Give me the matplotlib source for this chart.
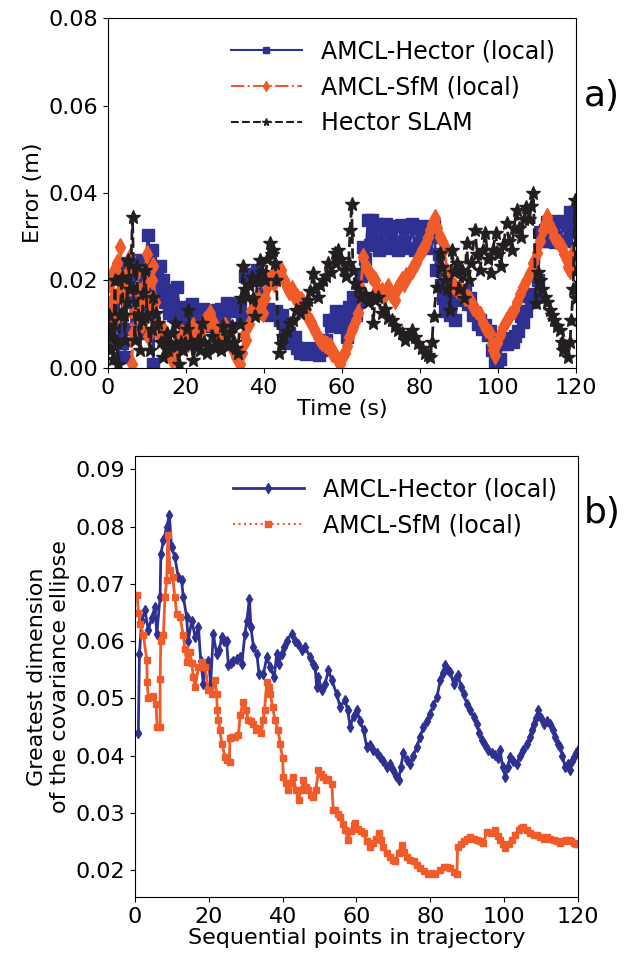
import numpy as np
import matplotlib
matplotlib.use("Agg")
import matplotlib.pyplot as plt

blue = "#2e3192"
orange = "#f15a29"
black = "#231f20"

# ---- a) localisation error vs time
t_amcl_hector = [0.3, 0.7, 1.2, 1.6, 2.2, 2.6, 3.1, 3.5, 3.9, 4.4, 4.8, 5.2, 5.7, 6.2, 6.8, 7.4, 7.8, 8.4, 9.0, 9.5,
                 10.3, 10.8, 11.2, 11.6, 12.1, 12.6, 13.3, 13.8, 14.2, 14.7, 15.1, 15.7, 16.3, 16.8, 17.2, 17.6, 18.3, 19.0, 19.8, 20.5,
                 21.0, 21.5, 22.3, 23.0, 23.6, 24.3, 25.0, 25.8, 26.5, 27.4, 28.2, 29.0, 29.8, 30.4, 31.2, 32.0, 33.0, 33.8, 34.5, 35.2,
                 36.0, 36.8, 37.5, 38.1, 38.8, 39.5, 40.2, 41.0, 41.8, 42.4, 43.2, 44.0, 44.6, 45.3, 45.8, 46.5, 47.2, 48.0, 48.6, 49.2,
                 50.0, 50.8, 51.6, 52.6, 53.4, 54.2, 55.0, 56.0, 56.6, 57.3, 57.8, 58.6, 59.5, 60.3, 61.2, 61.8, 62.4, 62.9, 63.5, 64.2,
                 64.8, 65.5, 66.0, 66.7, 67.2, 67.6, 68.2, 68.8, 69.4, 70.0, 70.6, 71.2, 71.8, 72.5, 73.2, 73.8, 74.5, 75.2, 75.9, 76.6,
                 77.3, 78.0, 78.7, 79.4, 80.1, 80.8, 81.5, 82.2, 82.9, 83.6, 84.2, 84.8, 85.4, 86.0, 86.5, 87.2, 87.8, 88.4, 89.0, 89.6,
                 90.3, 91.0, 91.6, 92.3, 92.8, 93.5, 94.2, 94.8, 95.4, 96.0, 96.8, 97.4, 98.0, 98.6, 99.2, 99.8, 100.4, 101.0, 101.7, 102.4,
                 103.1, 103.8, 104.5, 105.2, 105.8, 106.5, 107.2, 107.8, 108.5, 109.2, 109.8, 110.3, 110.8, 111.4, 112.0, 112.6, 113.2, 113.9, 114.6, 115.3,
                 116.0, 116.7, 117.4, 118.0, 118.6, 119.2, 119.8]
err_amcl_hector = [0.011, 0.0064, 0.014, 0.0095, 0.0056, 0.0022, 0.012, 0.0056, 0.024, 0.0026, 0.018, 0.022, 0.015, 0.009, 0.02, 0.0247, 0.019, 0.014, 0.008, 0.021,
                   0.0304, 0.024, 0.027, 0.001, 0.018, 0.021, 0.0232, 0.017, 0.0201, 0.015, 0.0178, 0.0125, 0.0155, 0.012, 0.0125, 0.0186, 0.014, 0.011, 0.013, 0.0125,
                   0.014, 0.0145, 0.011, 0.013, 0.0109, 0.0135, 0.0125, 0.0095, 0.0125, 0.0132, 0.011, 0.0135, 0.0112, 0.0148, 0.0145, 0.013, 0.0133, 0.0145, 0.012, 0.021,
                   0.0215, 0.0205, 0.0215, 0.0224, 0.02, 0.017, 0.0125, 0.0135, 0.012, 0.0125, 0.013, 0.011, 0.012, 0.0085, 0.0056, 0.008, 0.006, 0.007, 0.0045, 0.0034,
                   0.0045, 0.0032, 0.004, 0.0034, 0.0045, 0.003, 0.004, 0.0064, 0.011, 0.0095, 0.011, 0.013, 0.0094, 0.012, 0.0071, 0.014, 0.011, 0.0163, 0.012, 0.015,
                   0.021, 0.0277, 0.025, 0.0338, 0.028, 0.0338, 0.029, 0.033, 0.027, 0.0325, 0.028, 0.033, 0.0275, 0.032, 0.0285, 0.0325, 0.027, 0.0328, 0.0285, 0.0322,
                   0.0275, 0.033, 0.027, 0.032, 0.028, 0.0325, 0.0275, 0.0318, 0.03, 0.0325, 0.0224, 0.026, 0.019, 0.016, 0.013, 0.018, 0.012, 0.016, 0.011, 0.0165,
                   0.0167, 0.0155, 0.0175, 0.0145, 0.016, 0.012, 0.0125, 0.01, 0.011, 0.009, 0.0098, 0.0075, 0.0085, 0.004, 0.0015, 0.0, 0.002, 0.0055, 0.0065, 0.0055,
                   0.0068, 0.006, 0.0072, 0.0085, 0.0119, 0.0105, 0.013, 0.0165, 0.015, 0.017, 0.0165, 0.02, 0.031, 0.029, 0.0315, 0.0334, 0.029, 0.0335, 0.0288, 0.0334,
                   0.029, 0.0335, 0.029, 0.0334, 0.0357, 0.031, 0.0357]

t_amcl_sfm = [0.3, 0.6, 0.9, 1.3, 1.8, 2.3, 2.7, 3.1, 3.6, 4.1, 4.6, 5.1, 5.6, 6.1, 6.5, 6.9, 7.4, 7.8, 8.3, 8.8,
              9.4, 9.9, 10.3, 10.8, 11.2, 11.6, 12.1, 12.7, 13.3, 14.0, 14.6, 15.1, 15.7, 16.3, 16.9, 17.5, 18.2, 18.9, 19.5, 20.1,
              20.6, 21.3, 21.9, 22.6, 23.2, 23.6, 24.3, 25.0, 25.6, 26.2, 26.8, 27.4, 28.1, 28.7, 29.4, 30.0, 30.7, 31.4, 32.1, 32.8,
              33.3, 33.8, 34.5, 35.0, 35.5, 36.1, 36.7, 37.4, 38.1, 38.7, 39.3, 39.8, 40.3, 40.7, 41.3, 42.0, 42.6, 43.2, 43.9, 44.5,
              45.1, 45.8, 46.5, 47.1, 47.8, 48.4, 49.0, 49.6, 50.1, 50.8, 51.4, 52.0, 52.6, 53.2, 53.8, 54.4, 55.0, 55.6, 56.2, 56.9,
              57.5, 58.1, 58.8, 59.5, 60.1, 60.8, 61.2, 61.8, 62.5, 62.9, 63.6, 64.2, 64.8, 65.5, 66.1, 66.8, 67.5, 68.0, 68.5, 69.1,
              69.7, 70.3, 70.9, 71.5, 71.9, 72.5, 73.0, 73.6, 74.2, 74.7, 75.3, 75.9, 76.5, 77.2, 77.9, 78.5, 79.1, 79.8, 80.4, 81.0,
              81.5, 82.1, 82.6, 83.2, 83.8, 84.4, 85.1, 85.7, 86.4, 86.9, 87.3, 88.0, 88.6, 89.0, 89.6, 90.3, 90.9, 91.6, 92.2, 92.8,
              93.6, 94.5, 95.3, 96.2, 97.0, 97.9, 98.4, 98.8, 99.2, 99.7, 100.5, 101.4, 102.3, 103.1, 104.0, 104.8, 105.7, 106.5, 107.3, 108.2,
              109.0, 109.9, 110.7, 111.6, 112.1, 112.6, 113.2, 113.8, 114.4, 115.0, 115.7, 116.3, 117.0, 117.6, 118.0, 118.5, 119.0, 119.5, 120.0]
err_amcl_sfm = [0.012, 0.02, 0.015, 0.022, 0.011, 0.024, 0.017, 0.0277, 0.019, 0.012, 0.0185, 0.022, 0.0254, 0.001, 0.008, 0.0125, 0.018, 0.0224, 0.015, 0.01,
                0.019, 0.026, 0.0072, 0.015, 0.02, 0.0232, 0.015, 0.01, 0.0072, 0.009, 0.0065, 0.0057, 0.004, 0.0018, 0.005, 0.0035, 0.0065, 0.0079, 0.005, 0.007,
                0.0057, 0.008, 0.0095, 0.0065, 0.0085, 0.0072, 0.0095, 0.011, 0.0105, 0.0125, 0.011, 0.0095, 0.0075, 0.0057, 0.008, 0.0095, 0.007, 0.006, 0.004, 0.0025,
                0.0018, 0.001, 0.0035, 0.0075, 0.0064, 0.01, 0.013, 0.015, 0.0163, 0.0145, 0.013, 0.0125, 0.016, 0.0186, 0.02, 0.021, 0.0195, 0.0215, 0.021, 0.0224,
                0.02, 0.0186, 0.0175, 0.018, 0.0165, 0.0163, 0.015, 0.0155, 0.0148, 0.0135, 0.0115, 0.0105, 0.0094, 0.0085, 0.007, 0.0064, 0.006, 0.0055, 0.0052, 0.0049,
                0.0035, 0.003, 0.002, 0.001, 0.0025, 0.0034, 0.0049, 0.007, 0.0087, 0.0094, 0.011, 0.0125, 0.018, 0.0254, 0.023, 0.0224, 0.021, 0.0205, 0.0201, 0.018,
                0.0171, 0.0175, 0.0165, 0.018, 0.0186, 0.017, 0.0165, 0.0155, 0.018, 0.019, 0.0201, 0.0195, 0.021, 0.0215, 0.0224, 0.0235, 0.024, 0.0255, 0.027, 0.0275,
                0.0285, 0.03, 0.0315, 0.033, 0.0342, 0.032, 0.03, 0.029, 0.0277, 0.022, 0.0201, 0.0195, 0.019, 0.0186, 0.018, 0.0178, 0.017, 0.0163, 0.016, 0.0155,
                0.014, 0.0132, 0.012, 0.0102, 0.009, 0.0079, 0.0055, 0.0041, 0.003, 0.0057, 0.0075, 0.0094, 0.011, 0.012, 0.0132, 0.015, 0.0168, 0.0186, 0.0198, 0.0216,
                0.024, 0.0262, 0.029, 0.0315, 0.033, 0.0346, 0.033, 0.0315, 0.03, 0.0293, 0.0285, 0.0277, 0.026, 0.0247, 0.023, 0.0224, 0.026, 0.0245, 0.024]

t_hector_slam = [0.2, 0.5, 0.9, 1.3, 1.8, 2.2, 2.6, 3.1, 3.6, 4.0, 4.4, 4.8, 5.2, 5.7, 6.3, 6.9, 7.4, 7.8, 8.2, 8.7,
                 9.1, 9.5, 10.1, 10.8, 11.2, 11.6, 12.2, 12.9, 13.5, 14.2, 14.6, 15.1, 15.5, 15.9, 16.5, 17.2, 17.6, 18.1, 18.8, 19.3,
                 19.8, 20.2, 20.6, 21.2, 21.9, 22.5, 23.2, 23.6, 24.0, 24.6, 25.3, 25.9, 26.6, 27.4, 28.3, 29.0, 29.6, 30.2, 30.9, 31.3,
                 31.7, 32.3, 32.8, 33.3, 33.8, 34.2, 34.7, 35.1, 35.6, 36.2, 36.9, 37.3, 37.7, 38.3, 39.0, 39.6, 40.3, 40.9, 41.5, 42.0,
                 42.4, 42.8, 43.2, 43.8, 44.4, 45.0, 45.8, 46.6, 47.4, 48.3, 49.2, 50.1, 50.7, 51.3, 51.9, 52.6, 53.2, 53.9, 54.5, 55.2,
                 55.9, 56.5, 57.3, 58.2, 58.6, 59.1, 59.7, 60.4, 61.0, 61.7, 62.1, 62.5, 62.8, 63.3, 64.1, 65.0, 65.8, 66.7, 67.6, 68.0,
                 68.5, 69.3, 70.2, 71.0, 71.9, 72.8, 73.6, 74.5, 75.3, 76.2, 77.0, 77.9, 78.7, 79.6, 80.5, 81.3, 82.0, 82.6, 83.1, 83.5,
                 84.3, 85.1, 85.7, 86.4, 87.0, 87.7, 88.2, 88.8, 89.4, 90.0, 90.7, 91.3, 92.0, 92.5, 93.2, 94.1, 94.7, 95.4, 96.1, 96.8,
                 97.4, 98.1, 98.7, 99.4, 100.0, 100.7, 101.4, 102.2, 102.8, 103.5, 104.1, 104.8, 105.4, 106.0, 106.7, 107.3, 108.0, 108.6, 109.1, 109.7,
                 110.2, 110.7, 111.3, 112.0, 112.6, 113.3, 113.9, 114.5, 115.2, 115.8, 116.3, 116.7, 117.3, 118.0, 118.5, 118.8, 119.3, 119.7, 120.0]
err_hector_slam = [0.012, 0.004, 0.009, 0.002, 0.0201, 0.006, 0.001, 0.012, 0.0209, 0.012, 0.0064, 0.015, 0.0247, 0.018, 0.0346, 0.0064, 0.0232, 0.012, 0.0041, 0.011,
                   0.0171, 0.0224, 0.012, 0.0041, 0.009, 0.0163, 0.0125, 0.0102, 0.006, 0.0026, 0.006, 0.0079, 0.004, 0.0057, 0.008, 0.0102, 0.005, 0.001, 0.006, 0.004,
                   0.0057, 0.009, 0.0133, 0.006, 0.0018, 0.005, 0.0064, 0.004, 0.0102, 0.006, 0.0034, 0.005, 0.0072, 0.0045, 0.0057, 0.004, 0.0095, 0.006, 0.0049, 0.008,
                   0.0095, 0.006, 0.0045, 0.0034, 0.01, 0.016, 0.0232, 0.018, 0.0163, 0.019, 0.0209, 0.016, 0.0118, 0.02, 0.0247, 0.022, 0.0201, 0.025, 0.0285, 0.026,
                   0.027, 0.024, 0.0201, 0.0034, 0.0055, 0.0072, 0.0085, 0.0102, 0.011, 0.0133, 0.0125, 0.014, 0.0145, 0.0155, 0.0175, 0.0216, 0.018, 0.0163, 0.019, 0.0201,
                   0.021, 0.0239, 0.022, 0.0262, 0.024, 0.027, 0.025, 0.0224, 0.021, 0.0239, 0.0315, 0.0376, 0.0224, 0.0194, 0.018, 0.0163, 0.017, 0.015, 0.0163, 0.0102,
                   0.0155, 0.0163, 0.0125, 0.0135, 0.0115, 0.011, 0.0095, 0.0087, 0.008, 0.0064, 0.0075, 0.0087, 0.007, 0.0057, 0.0045, 0.0034, 0.003, 0.0026, 0.006, 0.0118,
                   0.0186, 0.0262, 0.023, 0.0201, 0.018, 0.0133, 0.027, 0.022, 0.0239, 0.018, 0.0224, 0.016, 0.0285, 0.02, 0.024, 0.0315, 0.026, 0.0224, 0.027, 0.0308,
                   0.025, 0.0216, 0.027, 0.0308, 0.026, 0.0232, 0.028, 0.0331, 0.029, 0.027, 0.032, 0.0361, 0.032, 0.03, 0.034, 0.0369, 0.034, 0.037, 0.04, 0.0148,
                   0.022, 0.0201, 0.018, 0.0163, 0.015, 0.0133, 0.012, 0.011, 0.0095, 0.0087, 0.006, 0.0041, 0.005, 0.0026, 0.006, 0.011, 0.018, 0.0384, 0.016]

# ---- b) greatest dimension of the covariance ellipse
pts_hector = [0.9, 1.2, 1.8, 2.7, 3.6, 4.5, 5.4, 5.9, 6.8, 7.0, 7.7, 8.6, 9.3, 9.9, 10.8, 11.7, 12.6, 13.1, 14.0, 14.4,
              15.4, 16.3, 17.2, 17.8, 18.5, 19.2, 19.9, 20.5, 21.2, 22.1, 22.8, 23.5, 24.2, 24.8, 25.3, 26.0, 26.6, 27.5, 28.5, 28.9,
              29.8, 30.3, 31.0, 31.4, 32.1, 33.0, 33.6, 34.8, 35.7, 36.6, 37.7, 38.4, 39.0, 39.7, 40.4, 41.1, 42.4, 43.3, 44.2, 45.2,
              46.1, 47.4, 48.2, 48.8, 49.2, 49.7, 50.6, 51.5, 52.4, 53.3, 54.6, 55.6, 56.9, 57.6, 58.3, 59.2, 60.1, 61.0, 61.9, 62.8,
              63.7, 64.6, 65.5, 66.4, 67.3, 68.2, 69.1, 70.0, 70.7, 71.4, 72.0, 72.7, 73.6, 74.5, 75.4, 76.3, 77.2, 78.1, 79.0, 79.9,
              80.8, 81.8, 82.7, 83.3, 84.0, 84.7, 85.4, 86.3, 87.0, 87.6, 88.3, 89.0, 89.9, 90.8, 91.7, 92.6, 93.2, 93.9, 94.8, 95.7,
              96.6, 97.6, 98.3, 98.9, 99.6, 100.3, 101.0, 101.6, 102.5, 103.4, 104.3, 105.2, 106.1, 107.0, 107.5, 108.0, 108.7, 109.3, 110.0, 110.7,
              111.6, 112.5, 113.2, 113.8, 114.5, 115.2, 115.8, 116.5, 117.2, 117.9, 118.4, 118.8, 119.4, 119.9]
dim_hector = [0.0439, 0.0578, 0.0636, 0.0654, 0.0619, 0.064, 0.066, 0.0613, 0.0677, 0.0752, 0.0776, 0.08, 0.082, 0.0764, 0.0747, 0.0712, 0.0706, 0.0677, 0.0642, 0.0601,
              0.0636, 0.0607, 0.0624, 0.0566, 0.0526, 0.056, 0.0566, 0.0526, 0.0613, 0.0578, 0.0585, 0.0607, 0.06, 0.0601, 0.0558, 0.0562, 0.0566, 0.0568, 0.0572, 0.056,
              0.0613, 0.0636, 0.0674, 0.0624, 0.059, 0.0578, 0.0543, 0.0543, 0.0572, 0.0555, 0.0537, 0.0578, 0.056, 0.0578, 0.059, 0.0601, 0.0613, 0.0601, 0.0595, 0.0584,
              0.059, 0.0572, 0.056, 0.0555, 0.052, 0.0537, 0.0514, 0.0526, 0.0549, 0.0532, 0.0508, 0.0485, 0.0497, 0.0479, 0.045, 0.047, 0.0479, 0.046, 0.0444, 0.0415,
              0.0418, 0.0409, 0.0405, 0.0398, 0.039, 0.038, 0.0385, 0.0375, 0.0365, 0.0357, 0.038, 0.0404, 0.0392, 0.0386, 0.04, 0.0415, 0.0432, 0.045, 0.046, 0.0473,
              0.0488, 0.0502, 0.0532, 0.0545, 0.0558, 0.055, 0.0546, 0.0526, 0.0535, 0.054, 0.052, 0.0508, 0.049, 0.0479, 0.0468, 0.0456, 0.044, 0.0427, 0.0418, 0.0409,
              0.0405, 0.0401, 0.0395, 0.0409, 0.038, 0.0363, 0.038, 0.0398, 0.039, 0.0386, 0.04, 0.0409, 0.042, 0.0432, 0.0445, 0.0456, 0.0465, 0.0479, 0.0465, 0.0456,
              0.046, 0.0456, 0.0445, 0.0432, 0.042, 0.0415, 0.04, 0.038, 0.0385, 0.0375, 0.039, 0.0398, 0.0405, 0.0409]

pts_sfm = [0.6, 0.9, 1.4, 2.3, 3.2, 3.3, 3.6, 4.3, 5.0, 5.7, 6.0, 6.8, 6.8, 7.0, 7.7, 8.1, 8.6, 8.9, 9.5, 10.2,
           10.8, 11.3, 12.2, 13.1, 13.5, 14.0, 14.9, 15.4, 15.8, 16.3, 17.2, 18.1, 19.0, 19.9, 20.8, 21.7, 22.1, 22.3, 22.6, 23.0,
           23.5, 24.4, 25.0, 25.6, 25.7, 26.4, 27.1, 28.0, 28.5, 29.3, 30.2, 30.6, 31.3, 32.0, 32.9, 33.5, 34.2, 34.7, 35.1, 35.7,
           36.2, 36.6, 37.3, 37.9, 38.8, 39.3, 40.0, 40.2, 40.9, 41.5, 42.2, 42.9, 43.6, 44.3, 45.0, 45.6, 46.3, 47.0, 47.7, 48.3,
           49.0, 49.7, 50.3, 51.0, 51.7, 52.4, 53.3, 53.7, 54.2, 55.0, 55.6, 56.3, 56.9, 57.8, 58.5, 59.2, 59.6, 60.5, 61.2, 61.9,
           62.8, 63.7, 64.6, 65.3, 66.0, 66.7, 67.3, 68.2, 69.1, 69.8, 70.5, 71.4, 72.3, 73.0, 73.7, 74.6, 75.5, 76.3, 77.2, 78.3,
           79.5, 80.4, 81.3, 82.5, 83.6, 84.5, 85.4, 86.3, 87.2, 87.4, 88.2, 89.0, 89.9, 90.8, 91.7, 92.6, 93.5, 94.4, 95.3, 96.4,
           97.6, 98.3, 98.9, 99.6, 100.3, 101.2, 102.1, 103.0, 103.9, 104.6, 105.2, 106.1, 107.0, 108.0, 108.9, 109.8, 110.7, 111.6, 112.5, 113.4,
           114.3, 115.2, 116.1, 116.8, 117.5, 118.1, 118.8, 119.4, 119.9]
dim_sfm = [0.068, 0.065, 0.063, 0.061, 0.0567, 0.0529, 0.05, 0.0502, 0.0505, 0.049, 0.045, 0.045, 0.0534, 0.0601, 0.061, 0.0677, 0.0706, 0.0785, 0.0724, 0.0712,
           0.0677, 0.0648, 0.0642, 0.061, 0.0587, 0.0564, 0.0581, 0.0561, 0.0537, 0.052, 0.0555, 0.0564, 0.0555, 0.0514, 0.0508, 0.0532, 0.0508, 0.0479, 0.0462, 0.0444,
           0.0421, 0.0398, 0.0392, 0.0389, 0.043, 0.0432, 0.0433, 0.0436, 0.0471, 0.0494, 0.048, 0.0462, 0.046, 0.0456, 0.0444, 0.0448, 0.0439, 0.0462, 0.048, 0.0529,
           0.052, 0.0508, 0.0485, 0.0462, 0.0444, 0.0421, 0.0395, 0.0363, 0.0352, 0.034, 0.0352, 0.0363, 0.034, 0.0322, 0.034, 0.0357, 0.0345, 0.034, 0.0332, 0.0328,
           0.034, 0.0375, 0.0368, 0.0363, 0.0358, 0.036, 0.0351, 0.0305, 0.0305, 0.0298, 0.0293, 0.028, 0.027, 0.0253, 0.0268, 0.0279, 0.0282, 0.0272, 0.0268, 0.0264,
           0.025, 0.0241, 0.0248, 0.0255, 0.0264, 0.0252, 0.0241, 0.023, 0.0223, 0.0218, 0.0215, 0.023, 0.0244, 0.0232, 0.0223, 0.0218, 0.0215, 0.0208, 0.0203, 0.0198,
           0.0194, 0.0195, 0.0194, 0.02, 0.0206, 0.0205, 0.0203, 0.0196, 0.0194, 0.0241, 0.0246, 0.025, 0.0255, 0.0258, 0.0255, 0.0253, 0.025, 0.0247, 0.0267, 0.0265,
           0.027, 0.026, 0.0253, 0.0245, 0.0238, 0.0245, 0.0253, 0.0262, 0.027, 0.0273, 0.0276, 0.027, 0.0264, 0.0262, 0.0261, 0.0258, 0.0255, 0.0257, 0.0255, 0.0252,
           0.025, 0.0248, 0.025, 0.0252, 0.0253, 0.025, 0.0247, 0.0246, 0.0246]


fig = plt.figure(figsize=(6.35, 9.58), dpi=100)
fs = 16

ax1 = fig.add_axes([0.170, 0.616, 0.737, 0.365])
ax1.plot(t_amcl_hector, err_amcl_hector, '-', color=blue, marker='s', markersize=8, lw=2, label='AMCL-Hector (local)')
ax1.plot(t_amcl_sfm, err_amcl_sfm, '-.', color=orange, marker='d', markersize=9, lw=2, label='AMCL-SfM (local)')
ax1.plot(t_hector_slam, err_hector_slam, '--', color=black, marker='*', markersize=10, lw=2, label='Hector SLAM')
ax1.set_xlim(0, 120)
ax1.set_ylim(0, 0.08)
ax1.set_xticks(np.arange(0, 121, 20))
ax1.set_yticks(np.arange(0, 0.081, 0.02))
ax1.set_xlabel('Time (s)', fontsize=fs, labelpad=1)
ax1.set_ylabel('Error (m)', fontsize=fs)
ax1.tick_params(labelsize=fs)
leg1 = ax1.legend(loc='upper right', fontsize=17, frameon=False, handlelength=3, markerscale=0.55)
for h in leg1.get_lines():
    h.set_linewidth(1.5)
fig.text(0.92, 0.90, 'a)', fontsize=26, va='center')

ax2 = fig.add_axes([0.2126, 0.0637, 0.6976, 0.460])
ax2.plot(pts_hector, dim_hector, '-', color=blue, marker='d', markersize=5.5, lw=2, label='AMCL-Hector (local)')
ax2.plot(pts_sfm, dim_sfm, ':', color=orange, marker='s', markersize=5, lw=1.5, label='AMCL-SfM (local)')
ax2.plot(pts_sfm, dim_sfm, '-', color=orange, lw=2)
ax2.set_xlim(0, 120)
ax2.set_ylim(0.0153, 0.0923)
ax2.set_xticks(np.arange(0, 121, 20))
ax2.set_yticks(np.arange(0.02, 0.0901, 0.01))
ax2.set_xlabel('Sequential points in trajectory', fontsize=fs, labelpad=1)
ax2.set_ylabel('Greatest dimension\nof the covariance ellipse', fontsize=fs)
ax2.tick_params(labelsize=fs)
ax2.legend(loc='upper right', fontsize=17, frameon=False, handlelength=3)
fig.text(0.92, 0.465, 'b)', fontsize=26, va='center')

plt.savefig('out.png', dpi=100)
